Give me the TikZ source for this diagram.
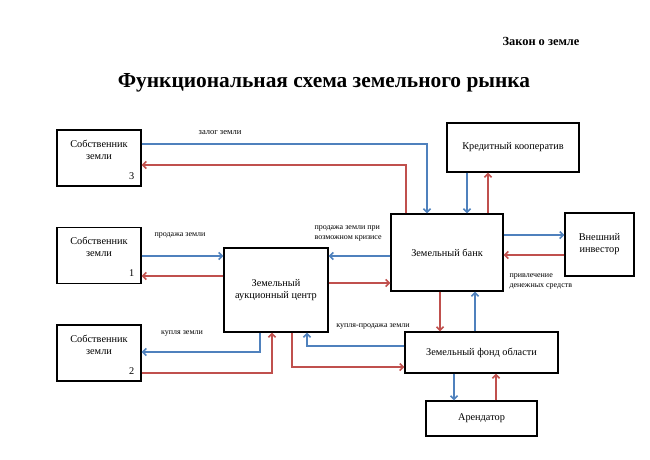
\documentclass[tikz,border=0pt]{standalone}
\usepackage{fontspec}
\setmainfont{Liberation Serif}
\usetikzlibrary{arrows.meta}

\definecolor{flowblue}{HTML}{4F81BD}
\definecolor{flowred}{HTML}{C0504D}

\begin{document}
\begin{tikzpicture}[x=1pt, y=-1pt, >={Straight Barb[length=3.5pt,width=7pt]},
    every node/.style={font=\fontsize{10.3}{12}\selectfont},
    box/.style={draw, line width=1.4pt, align=center, inner sep=0pt},
    bl/.style={->, line width=1.5pt, flowblue},
    rd/.style={->, line width=1.5pt, flowred},
    lbl/.style={font=\fontsize{8}{9.5}\selectfont, align=left}]
\useasboundingbox (0,0) rectangle (650,460);

% Headings
\node[font=\bfseries\fontsize{12.4}{14}\selectfont] (law) at (541,41) {Закон о земле};
\node[font=\bfseries\fontsize{21.4}{24}\selectfont] (title) at (324,83) {Функциональная схема земельного рынка};

% Land owners
\foreach \n/\y in {3/158, 1/255.5, 2/353} {
    \node[box, minimum width=84pt, minimum height=56pt] (own\n) at (99,\y) {};
    \node[anchor=north, align=center] (ownt\n) at ([yshift=-7pt]own\n.north) {Собственник\\земли};
    \node[anchor=south east] (ownn\n) at ([xshift=-4pt,yshift=4pt]own\n.south east) {\n};
}

% Other participants
\node[box, minimum width=104pt, minimum height=84pt] (auc) at (276,290) {Земельный\\аукционный центр};
\node[box, minimum width=112pt, minimum height=77pt] (bank) at (447,252.5) {Земельный банк};
\node[box, minimum width=132pt, minimum height=49pt] (coop) at (513,147.5) {Кредитный кооператив};
\node[box, minimum width=69pt, minimum height=63pt] (inv) at (599.5,244.5) {Внешний\\инвестор};
\node[box, minimum width=153pt, minimum height=41pt] (fund) at (481.5,352.5) {Земельный фонд области};
\node[box, minimum width=111pt, minimum height=35pt] (arend) at (481.5,418.5) {Арендатор};

% Owner 3 and the bank
\draw[bl] (own3.east |- 0,144) -| ([xshift=-20pt]bank.north);
\draw[rd] ([xshift=-41pt]bank.north) |- (own3.east |- 0,165);
\node (zalog) at (220,133) {\fontsize{8.5}{10}\selectfont залог земли};

% Owner 1 and the auction centre
\draw[bl] (own1.east |- 0,256) -- (auc.west |- 0,256);
\draw[rd] (auc.west |- 0,276) -- (own1.east |- 0,276);
\node[lbl] (prod) at (180,235) {продажа земли};

% Bank and the auction centre
\draw[bl] (bank.west |- 0,256) -- (auc.east |- 0,256);
\draw[rd] (auc.east |- 0,283) -- (bank.west |- 0,283);
\node[lbl, anchor=west] (kriz) at (311,233.5) {продажа земли при\\возможном кризисе};

% Bank and the cooperative
\draw[bl] ([xshift=-46pt]coop.south) -- ([xshift=-46pt]coop.south |- bank.north);
\draw[rd] ([xshift=-25pt]coop.south |- bank.north) -- ([xshift=-25pt]coop.south);

% Bank and the investor
\draw[bl] (bank.east |- 0,235) -- (inv.west |- 0,235);
\draw[rd] (inv.west |- 0,255) -- (bank.east |- 0,255);
\node[lbl, anchor=west] (privl) at (506,281.5) {привлечение\\денежных средств};

% Bank and the land fund
\draw[rd] ([xshift=-7pt]bank.south) -- ([xshift=-7pt]bank.south |- fund.north);
\draw[bl] ([xshift=28pt]bank.south |- fund.north) -- ([xshift=28pt]bank.south);

% Land fund and the tenant
\draw[bl] ([xshift=-27.5pt]fund.south) -- ([xshift=-27.5pt]fund.south |- arend.north);
\draw[rd] ([xshift=14.5pt]fund.south |- arend.north) -- ([xshift=14.5pt]fund.south);

% Owner 2 and the auction centre
\draw[bl] ([xshift=-16pt]auc.south) |- (own2.east |- 0,352);
\draw[rd] (own2.east |- 0,373) -| ([xshift=-4pt]auc.south);
\node[lbl] (kupl) at (182,333) {купля земли};

% Land fund and the auction centre
\draw[bl] (fund.west |- 0,346) -| ([xshift=31pt]auc.south);
\draw[rd] ([xshift=16pt]auc.south) |- (fund.west |- 0,367);
\node[lbl] (kuplprod) at (373,326) {купля-продажа земли};

\end{tikzpicture}
\end{document}
